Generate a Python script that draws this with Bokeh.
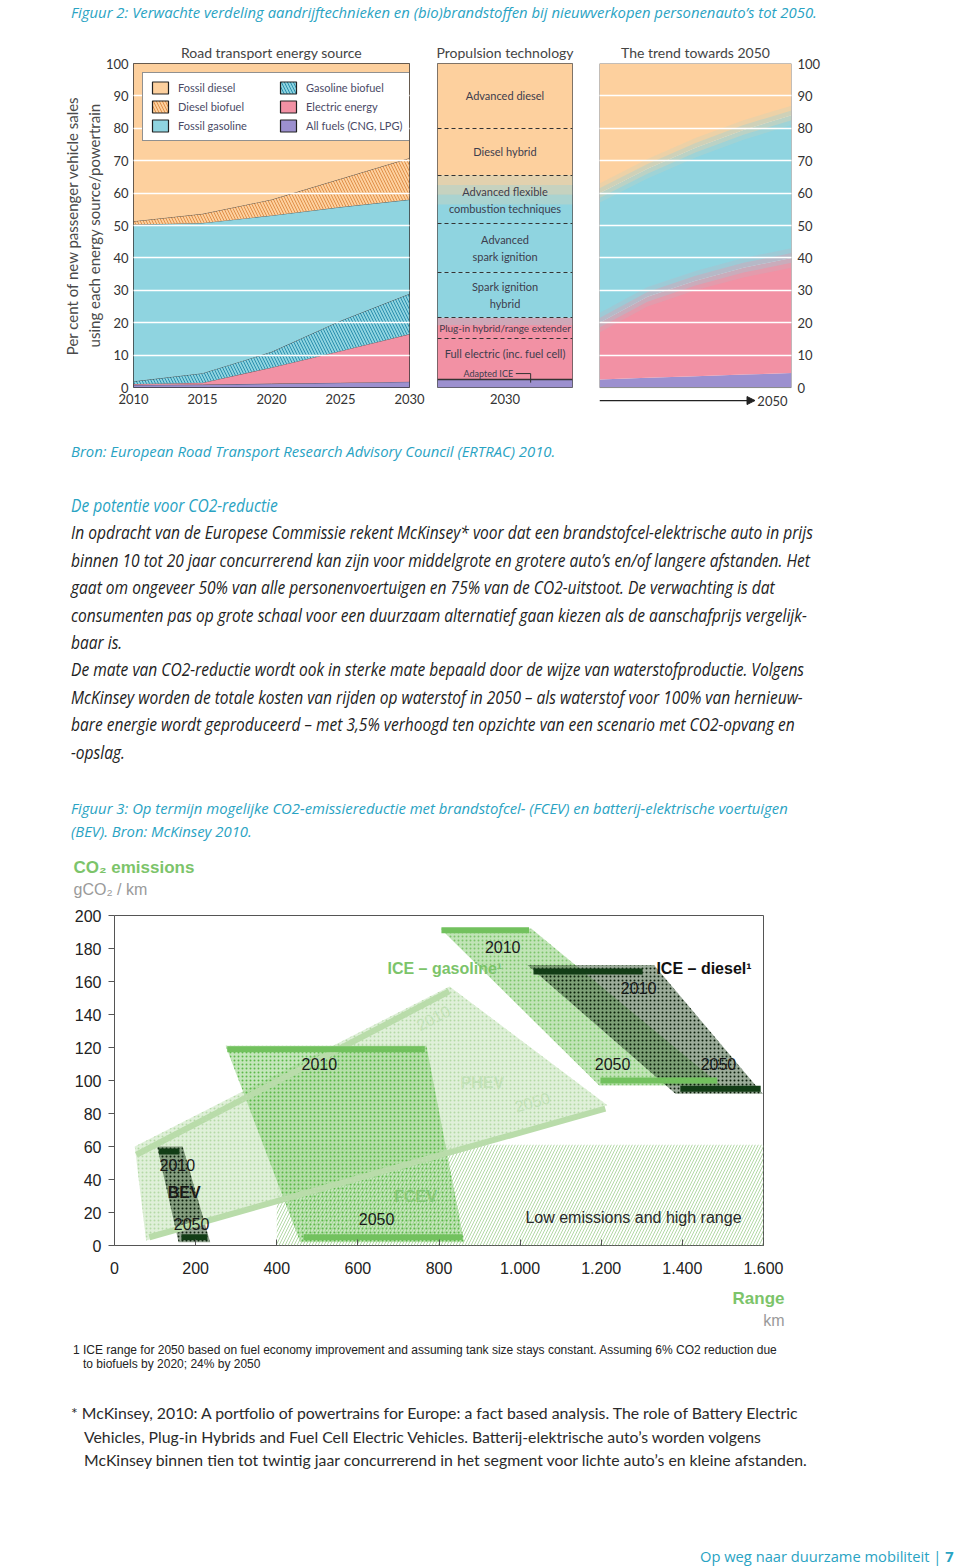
import numpy as np
from bokeh.plotting import figure
from bokeh.models import (Range1d, FixedTicker, Legend, LegendItem, Div, Title,
                          Arrow, NormalHead)
from bokeh.layouts import column, row
from bokeh.embed import file_html
from bokeh.resources import INLINE
from bokeh.core.properties import value

# ------------------------------------------------------------------ data
# Figure 2, panel 1: road transport energy source (share of new sales, %)
years = [2010, 2015, 2020, 2025, 2030]
all_fuels_cng_lpg = [0.8, 0.9, 1.2, 1.5, 1.8]
electric_energy = [0.3, 0.6, 5.0, 9.8, 14.7]
gasoline_biofuel = [0.8, 2.9, 4.8, 9.3, 12.4]
fossil_gasoline = [48.4, 46.4, 42.1, 35.1, 29.1]
diesel_biofuel = [1.0, 2.8, 4.9, 8.7, 12.8]
fossil_diesel = [48.7, 46.4, 42.0, 35.6, 29.2]

# Figure 2, panel 2: propulsion technology 2030 (bottom -> top, %)
tech_names = ["Adapted ICE", "Full electric (inc. fuel cell)",
              "Plug-in hybrid/range extender", "Spark ignition\nhybrid",
              "Advanced\nspark ignition",
              "Advanced flexible\ncombustion techniques",
              "Diesel hybrid", "Advanced diesel"]
tech_share = [2.5, 12.5, 6.5, 14.0, 15.0, 15.0, 14.5, 20.0]

# Figure 2, panel 3: trend towards 2050 (%)
trend_years = [2030, 2035, 2040, 2045, 2050]
trend_other = [2.5, 3.0, 3.5, 4.0, 4.5]
trend_electric = [17.5, 25.0, 29.5, 33.0, 35.5]
trend_gasoline = [40.0, 39.5, 41.0, 42.5, 44.0]
trend_diesel = [40.0, 32.5, 26.0, 20.5, 16.0]

# Figure 3: CO2 emissions (g/km) versus range (km)
range_ticks = [0, 200, 400, 600, 800, 1000, 1200, 1400, 1600]
range_labels = ["0", "200", "400", "600", "800", "1.000", "1.200", "1.400", "1.600"]
co2_ticks = [0, 20, 40, 60, 80, 100, 120, 140, 160, 180, 200]

low_x = [400, 1600, 1600, 400]
low_y = [0, 0, 61, 61]
phev_x = [50, 826, 1215, 78]
phev_y = [60, 157, 85, 3]
gas_x = [804, 1028, 1495, 1195]
gas_y = [192, 192, 97, 97]
fcev_x = [274, 769, 862, 458]
fcev_y = [121, 121, 2, 2]
diesel_x = [1018, 1330, 1598, 1383]
diesel_y = [170, 170, 92, 92]
bev_x = [105, 168, 236, 158]
bev_y = [60, 60, 2, 2]

phev_2010 = ([54, 825], [55, 154])
phev_2050 = ([86, 1210], [5, 83])
gas_2010 = ([806, 1022], [191, 191])
gas_2050 = ([1198, 1486], [100, 100])
fcev_2010 = ([278, 765], [119, 119])
fcev_2050 = ([466, 858], [5, 5])
diesel_2010 = ([1033, 1302], [166, 166])
diesel_2050 = ([1395, 1593], [95, 95])
bev_2010 = ([110, 160], [57, 57])
bev_2050 = ([165, 229], [5, 5])

# ------------------------------------------------------------------ colours
TEAL = "#29a3c3"
PEACH = "#fdd09e"
BLUE = "#8fd4e0"
PINK = "#f291a4"
PURPLE = "#9c90cf"
FONT = "Lato"


def style_title(t, size="14px"):
    t.align = "center"
    t.vertical_align = "middle"
    t.text_font = FONT
    t.text_font_size = size
    t.text_font_style = "normal"
    t.text_color = "#444444"
    t.standoff = 4


# ------------------------------------------------------------------ panel 1
pA = figure(width=428, height=380, x_range=Range1d(2010, 2030), y_range=Range1d(0, 100),
            output_backend="svg", toolbar_location=None,
            min_border_left=133, min_border_right=19, min_border_top=28, min_border_bottom=28)
pA.title.text = "Road transport energy source"
style_title(pA.title)

layers = [
    ("All fuels (CNG, LPG)", all_fuels_cng_lpg, PURPLE, None, None),
    ("Electric energy", electric_energy, PINK, None, None),
    ("Gasoline biofuel", gasoline_biofuel, BLUE, "\\", "#2b8fae"),
    ("Fossil gasoline", fossil_gasoline, BLUE, None, None),
    ("Diesel biofuel", diesel_biofuel, PEACH, "\\", "#e0904a"),
    ("Fossil diesel", fossil_diesel, PEACH, None, None),
]
base = np.zeros(len(years))
rend = {}
for name, vals, col, hatch, hcol in layers:
    top = base + np.array(vals)
    kw = {}
    if hatch:
        kw = dict(hatch_pattern=hatch, hatch_color=hcol, hatch_scale=6, hatch_weight=1)
    pA.varea(x=years, y1=base, y2=top, fill_color=col, **kw)
    if name != "Fossil diesel":
        pA.line(years, top, line_color="#333333", line_width=0.9, line_alpha=0.8)
    # legend swatch with a dark outline (no visible geometry on the plot)
    rend[name] = pA.quad(left=[np.nan], right=[np.nan], bottom=[np.nan], top=[np.nan],
                         fill_color=col, line_color="#222222", line_width=1.2, **kw)
    base = top

legend_order = ["Fossil diesel", "Diesel biofuel", "Fossil gasoline",
                "Gasoline biofuel", "Electric energy", "All fuels (CNG, LPG)"]
legend = Legend(items=[LegendItem(label=n, renderers=[rend[n]]) for n in legend_order],
                ncols=2, location="top_left", margin=9, padding=7, spacing=4,
                glyph_width=20, glyph_height=15, label_width=96, label_standoff=8,
                label_text_font=FONT, label_text_font_size="11px", label_text_color="#4a4a66",
                border_line_color="#222222", border_line_width=1.2, background_fill_alpha=1.0)
pA.add_layout(legend)

pA.ygrid.ticker = FixedTicker(ticks=list(range(10, 100, 10)))
pA.ygrid.grid_line_color = "white"
pA.ygrid.grid_line_width = 1.6
pA.ygrid.level = "guide"
pA.xgrid.grid_line_color = None
pA.yaxis.ticker = FixedTicker(ticks=list(range(0, 101, 10)))
pA.xaxis.ticker = FixedTicker(ticks=years)
for ax in (pA.xaxis[0], pA.yaxis[0]):
    ax.major_tick_line_color = None
    ax.major_tick_out = 0
    ax.major_tick_in = 0
    ax.minor_tick_line_color = None
    ax.axis_line_color = None
    ax.major_label_text_font = FONT
    ax.major_label_text_font_size = "13px"
    ax.major_label_text_color = "#333333"
    ax.major_label_standoff = 5
pA.xaxis.major_label_standoff = 6
pA.yaxis.axis_label = "Per cent of new passenger vehicle sales\nusing each energy source/powertrain"
pA.yaxis.axis_label_text_font = FONT
pA.yaxis.axis_label_text_font_size = "15px"
pA.yaxis.axis_label_text_font_style = "normal"
pA.yaxis.axis_label_text_color = "#4a4a4a"
pA.yaxis.axis_label_standoff = 0
pA.outline_line_color = "#333333"
pA.outline_line_width = 1

# ------------------------------------------------------------------ panel 2
pB = figure(width=157, height=380, x_range=Range1d(0, 1), y_range=Range1d(0, 100),
            output_backend="svg", toolbar_location=None,
            min_border_left=9, min_border_right=13, min_border_top=28, min_border_bottom=28)
pB.title.text = "Propulsion technology"
style_title(pB.title)

tops = np.cumsum(tech_share)
bottoms = tops - np.array(tech_share)
seg_colors = [PURPLE, PINK, PINK, BLUE, BLUE, BLUE, PEACH, PEACH]
pB.quad(left=0, right=1, bottom=bottoms, top=tops, fill_color=seg_colors, line_color=None)
# soft colour transitions
flex = tech_names.index("Advanced flexible\ncombustion techniques")
plug = tech_names.index("Plug-in hybrid/range extender")
for frac, a in [(0.0, 0.75), (0.2, 0.5), (0.4, 0.25)]:
    pB.quad(left=0, right=1, bottom=tops[flex] - tech_share[flex] * (frac + 0.2),
            top=tops[flex] - tech_share[flex] * frac, fill_color=PEACH, fill_alpha=a, line_color=None)
pB.quad(left=0, right=1, bottom=tops[plug] - tech_share[plug] * 0.35, top=tops[plug],
        fill_color=BLUE, fill_alpha=0.35, line_color=None)

pB.hspan(y=list(tops[1:-1]), line_color="#333333", line_width=1.2, line_dash="4 3")
pB.hspan(y=[tops[0]], line_color="#333333", line_width=1.4)

mids = (tops + bottoms) / 2
lab_y = list(mids[1:])
lab_y[0] = mids[1] + 1.8
sizes = ["11px"] * len(lab_y)
sizes[1] = "10px"
pB.text(x=[0.5] * len(lab_y), y=lab_y, text=tech_names[1:], text_align="center",
        text_baseline="middle", text_font=value(FONT), text_font_size=sizes,
        text_color="#3d3d4d", text_line_height=1.3)
pB.text(x=[0.56], y=[tops[0] + 1.8], text=[tech_names[0]], text_align="right",
        text_baseline="middle", text_font=value(FONT), text_font_size="9px", text_color="#3d3d4d")
pB.line(x=[0.58, 0.69, 0.69], y=[tops[0] + 1.8, tops[0] + 1.8, tops[0] - 1.0],
        line_color="#333333", line_width=1)

pB.xaxis.ticker = FixedTicker(ticks=[0.5])
pB.xaxis.major_label_overrides = {0.5: "2030"}
pB.yaxis.visible = False
pB.grid.grid_line_color = None
pB.xaxis.major_tick_line_color = None
pB.xaxis.major_tick_out = 0
pB.xaxis.minor_tick_line_color = None
pB.xaxis.axis_line_color = None
pB.xaxis.major_label_text_font = FONT
pB.xaxis.major_label_text_font_size = "13px"
pB.xaxis.major_label_text_color = "#333333"
pB.xaxis.major_label_standoff = 6
pB.outline_line_color = "#555555"

# ------------------------------------------------------------------ panel 3
# the frame reaches a little below 0 so that the time arrow can be drawn in it
pC = figure(width=245, height=380, x_range=Range1d(2030, 2050), y_range=Range1d(-8, 100),
            output_backend="svg", toolbar_location=None, y_axis_location="right",
            min_border_left=14, min_border_right=39, min_border_top=28, min_border_bottom=2)
pC.title.text = "The trend towards 2050"
style_title(pC.title)

tb = np.zeros(len(trend_years))
bounds = []
for vals, col in [(trend_other, PURPLE), (trend_electric, PINK),
                  (trend_gasoline, BLUE), (trend_diesel, PEACH)]:
    tt = tb + np.array(vals)
    pC.varea(x=trend_years, y1=tb, y2=tt, fill_color=col)
    bounds.append(tt)
    tb = tt
# blurred transitions between colour zones
for b, lo_col, hi_col in [(bounds[1], PINK, BLUE), (bounds[2], BLUE, PEACH)]:
    for d, a in [(1.5, 0.3), (3.0, 0.15)]:
        pC.varea(x=trend_years, y1=b - d, y2=b, fill_color=hi_col, fill_alpha=a)
        pC.varea(x=trend_years, y1=b, y2=b + d, fill_color=lo_col, fill_alpha=a)

pC.ygrid.ticker = FixedTicker(ticks=list(range(10, 100, 10)))
pC.ygrid.grid_line_color = "white"
pC.ygrid.grid_line_width = 1.6
pC.ygrid.level = "guide"
pC.xgrid.grid_line_color = None
pC.outline_line_color = None
pC.quad(left=trend_years[0], right=trend_years[-1], bottom=0, top=100,
        fill_color=None, line_color="#888888", line_width=1)
pC.yaxis.ticker = FixedTicker(ticks=list(range(0, 101, 10)))
pC.yaxis.major_tick_line_color = None
pC.yaxis.major_tick_out = 0
pC.yaxis.minor_tick_line_color = None
pC.yaxis.axis_line_color = None
pC.yaxis.major_label_text_font = FONT
pC.yaxis.major_label_text_font_size = "13px"
pC.yaxis.major_label_text_color = "#333333"
pC.yaxis.major_label_standoff = 6
pC.xaxis.visible = False
pC.add_layout(Arrow(end=NormalHead(size=8, fill_color="#222222", line_color="#222222"),
                    x_start=trend_years[0], y_start=-4, x_end=trend_years[-1] - 3.8, y_end=-4,
                    line_color="#222222", line_width=1.3))
pC.text(x=[trend_years[-1]], y=[-4], text=[str(trend_years[-1])], text_align="right",
        text_baseline="middle", x_offset=-4, text_font=value(FONT),
        text_font_size="13px", text_color="#333333")

# ------------------------------------------------------------------ figure 3
AR = "Liberation Sans"
G_LIGHT = "#b9dcaa"
G_MID = "#72c15e"
G_DARK = "#123d16"
pD = figure(width=850, height=490, x_range=Range1d(0, 1600), y_range=Range1d(0, 200),
            output_backend="svg", toolbar_location=None, title_location=None,
            min_border_left=114, min_border_right=87, min_border_top=65, min_border_bottom=95)
pD.grid.grid_line_color = None
pD.outline_line_color = "#555555"
pD.outline_line_width = 1

pD.patch(low_x, low_y, fill_color=None, line_color=None, hatch_pattern="/",
         hatch_color="#b3d9a6", hatch_scale=6, hatch_weight=1)
pD.patch(phev_x, phev_y, fill_color="#d4ebcc", fill_alpha=0.75, line_color=None,
         hatch_pattern=".", hatch_color="#b4d9a6", hatch_scale=4)
pD.patch(gas_x, gas_y, fill_color="#a6d898", fill_alpha=0.7, line_color=None,
         hatch_pattern=".", hatch_color="#7cc46a", hatch_scale=4)
pD.patch(fcev_x, fcev_y, fill_color="#93d183", fill_alpha=0.55, line_color=None,
         hatch_pattern=".", hatch_color="#5cb849", hatch_scale=4)
pD.patch(diesel_x, diesel_y, fill_color="#3a5a36", fill_alpha=0.5, line_color=None,
         hatch_pattern=".", hatch_color="#0b1f0b", hatch_scale=4)
pD.patch(bev_x, bev_y, fill_color="#3a5a36", fill_alpha=0.55, line_color=None,
         hatch_pattern=".", hatch_color="#0b1f0b", hatch_scale=4)

for (xs, ys), col in [(phev_2010, G_LIGHT), (phev_2050, G_LIGHT), (gas_2010, G_MID),
                      (gas_2050, G_MID), (fcev_2010, G_MID), (fcev_2050, G_MID),
                      (diesel_2010, G_DARK), (diesel_2050, G_DARK),
                      (bev_2010, G_DARK), (bev_2050, G_DARK)]:
    pD.line(xs, ys, line_color=col, line_width=6)


def lab(x, y, text, color="#1a1a1a", bold=False, angle=0.0, align="center", size="16px"):
    pD.text(x=[x], y=[y], text=[text], text_align=align, text_baseline="middle",
            angle=angle, text_font=value(AR), text_font_size=size,
            text_font_style="bold" if bold else "normal", text_color=color)


lab(786, 138, "2010", color="#c3e2b8", angle=np.radians(27.5))
lab(1030, 87, "2050", color="#c3e2b8", angle=np.radians(15.8))
lab(907, 99, "PHEV", color="#c3e2b8", bold=True)
lab(673, 168, "ICE – gasoline¹", color="#7cc46a", bold=True, align="left")
lab(957, 181, "2010")
lab(1228, 110, "2050")
lab(1336, 168, "ICE – diesel¹", color="#111111", bold=True, align="left")
lab(1292, 156, "2010")
lab(1489, 110, "2050")
lab(505, 110, "2010")
lab(646, 16, "2050")
lab(742, 30, "FCEV", color="#86c977", bold=True)
lab(155, 49, "2010")
lab(172, 32, "BEV", bold=True)
lab(190, 13, "2050")
lab(1013, 17, "Low emissions and high range", color="#2a2a2a", align="left")

pD.xaxis.ticker = FixedTicker(ticks=range_ticks)
pD.xaxis.major_label_overrides = {t: s for t, s in zip(range_ticks, range_labels)}
pD.xaxis.major_tick_in = 6
pD.xaxis.major_tick_out = 0
pD.xaxis.major_label_standoff = 16
pD.yaxis.ticker = FixedTicker(ticks=co2_ticks)
pD.yaxis.major_tick_in = 0
pD.yaxis.major_tick_out = 6
pD.yaxis.major_label_standoff = 7
for ax in (pD.xaxis[0], pD.yaxis[0]):
    ax.minor_tick_line_color = None
    ax.axis_line_color = None
    ax.major_tick_line_color = "#555555"
    ax.major_label_text_font = AR
    ax.major_label_text_font_size = "16px"
    ax.major_label_text_color = "#222222"

pD.add_layout(Title(text="gCO₂ / km", align="left", offset=-41, standoff=36, text_font=AR,
                    text_font_size="16px", text_font_style="normal", text_color="#9a9a9a"), "above")
pD.add_layout(Title(text="CO₂ emissions", align="left", offset=-41, standoff=-33, text_font=AR,
                    text_font_size="17px", text_font_style="bold", text_color="#7cc46a"), "above")
pD.add_layout(Title(text="Range", align="right", offset=-21, standoff=21, text_font=AR,
                    text_font_size="17px", text_font_style="bold", text_color="#7cc46a"), "below")
pD.add_layout(Title(text="km", align="right", offset=-21, standoff=-18, text_font=AR,
                    text_font_size="16px", text_font_style="normal", text_color="#9a9a9a"), "below")

# ------------------------------------------------------------------ text blocks
CAP = (f"font-family:'Open Sans',sans-serif;font-style:italic;font-size:14.85px;color:{TEAL};"
       "white-space:nowrap;")
BODY = ("font-family:'Open Sans',sans-serif;font-style:italic;font-size:19px;"
        "white-space:nowrap;transform:scaleX(0.818);transform-origin:0 0;")

d1 = Div(width=960, height=35, margin=0, text=(
    f"<div style=\"{CAP}line-height:18px;padding:3px 0 0 71px;\">"
    "Figuur 2: Verwachte verdeling aandrijftechnieken en (bio)brandstoffen bij "
    "nieuwverkopen personenauto’s tot 2050.</div>"))

d2 = Div(width=960, height=75, margin=0, text=(
    f"<div style=\"{CAP}line-height:18px;padding:27px 0 0 71px;\">"
    "Bron: European Road Transport Research Advisory Council (ERTRAC) 2010.</div>"))

body_lines = [
    "In opdracht van de Europese Commissie rekent McKinsey* voor dat een brandstofcel-elektrische auto in prijs",
    "binnen 10 tot 20 jaar concurrerend kan zijn voor middelgrote en grotere auto’s en/of langere afstanden. Het",
    "gaat om ongeveer 50% van alle personenvoertuigen en 75% van de CO2-uitstoot. De verwachting is dat",
    "consumenten pas op grote schaal voor een duurzaam alternatief gaan kiezen als de aanschafprijs vergelijk-",
    "baar is.",
    "De mate van CO2-reductie wordt ook in sterke mate bepaald door de wijze van waterstofproductie. Volgens",
    "McKinsey worden de totale kosten van rijden op waterstof in 2050 – als waterstof voor 100% van hernieuw-",
    "bare energie wordt geproduceerd – met 3,5% verhoogd ten opzichte van een scenario met CO2-opvang en",
    "-opslag.",
]
d3 = Div(width=960, height=305, margin=0, text=(
    "<div style=\"padding:2px 0 0 71px;\">"
    f"<div style=\"{BODY}line-height:27.4px;color:#222;\">"
    f"<span style=\"color:{TEAL};\">De potentie voor CO2-reductie</span><br>"
    + "<br>".join(body_lines) + "</div></div>"))

d4 = Div(width=960, height=55, margin=0, text=(
    f"<div style=\"{CAP}line-height:23px;padding:2px 0 0 71px;\">"
    "Figuur 3: Op termijn mogelijke CO2-emissiereductie met brandstofcel- (FCEV) en "
    "batterij-elektrische voertuigen<br>(BEV). Bron: McKinsey 2010.</div>"))

d5 = Div(width=960, height=228, margin=0, text=(
    "<div style=\"position:relative;width:960px;height:228px;\">"
    "<div style=\"font-family:'Liberation Sans',sans-serif;font-size:12px;line-height:14px;"
    "color:#222;padding:3px 0 0 73px;white-space:nowrap;\">"
    "1 ICE range for 2050 based on fuel economy improvement and assuming tank size stays "
    "constant. Assuming 6% CO2 reduction due<br>"
    "<span style=\"padding-left:10px;\">to biofuels by 2020; 24% by 2050</span></div>"
    "<div style=\"font-family:Lato,sans-serif;font-size:15.8px;line-height:23.5px;color:#2a2a2a;"
    "padding:30px 0 0 84px;text-indent:-13px;white-space:nowrap;\">"
    "* McKinsey, 2010: A portfolio of powertrains for Europe: a fact based analysis. The role "
    "of Battery Electric<br>"
    "Vehicles, Plug-in Hybrids and Fuel Cell Electric Vehicles. Batterij-elektrische auto’s "
    "worden volgens<br>"
    "McKinsey binnen tien tot twintig jaar concurrerend in het segment voor lichte auto’s en "
    "kleine afstanden.</div>"
    f"<div style=\"font-family:'Open Sans',sans-serif;font-size:14.7px;line-height:16px;"
    f"color:{TEAL};position:absolute;left:700px;top:208px;white-space:nowrap;\">"
    "Op weg naar duurzame mobiliteit | <b>7</b></div></div>"))

top_row = row(pA, pB, column(pC, spacing=0), spacing=0)
layout = column(d1, top_row, d2, d3, d4, pD, d5, spacing=0)

with open("out.html", "w") as f:
    f.write(file_html(layout, INLINE, title="Figuur 2 en 3"))
